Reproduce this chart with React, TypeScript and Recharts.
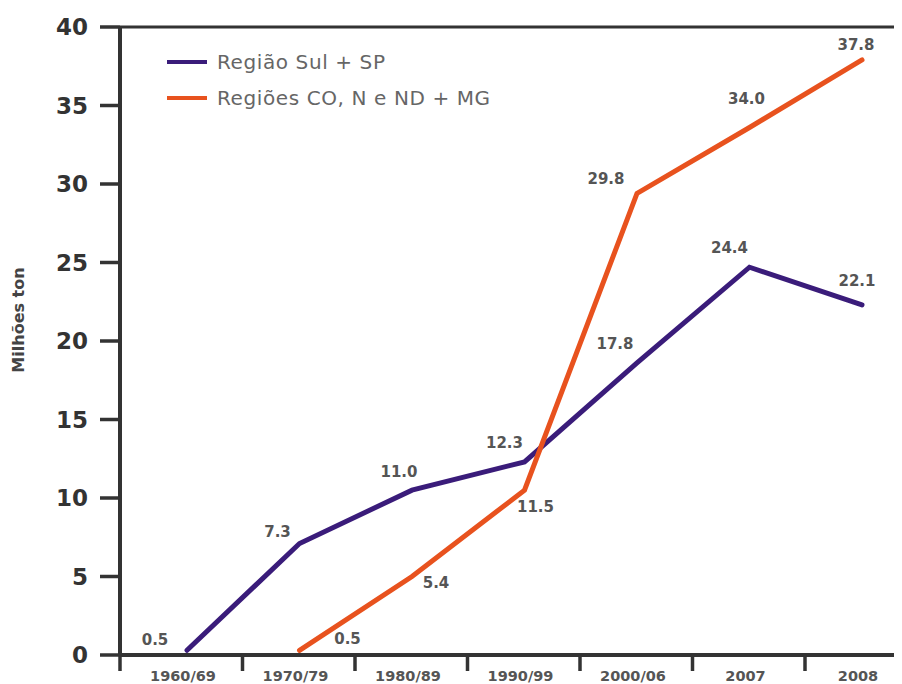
import { Line, LineChart, ReferenceLine, XAxis, YAxis } from "recharts";

const periods = ["1960/69", "1970/79", "1980/89", "1990/99", "2000/06", "2007", "2008"];
const sulSp = [0.3, 7.1, 10.5, 12.3, 18.6, 24.7, 22.3];
const coNne = [null, 0.3, 5.0, 10.5, 29.4, 33.6, 37.9];
const sulLabels = ["0.5", "7.3", "11.0", "12.3", "17.8", "24.4", "22.1"];
const coLabels = ["", "0.5", "5.4", "11.5", "29.8", "34.0", "37.8"];
const yTicks = [0, 5, 10, 15, 20, 25, 30, 35, 40];

const SUL_COLOR = "#3a1c7a";
const CO_COLOR = "#e8521e";
const FONT = "'DejaVu Sans', Arial, sans-serif";

// label nudges relative to each point, as in the source picture
const sulNudge = [[-32, -10], [-22, -12], [-13, -18], [-20, -19], [-22, -19], [-20, -19], [-5, -24]];
const coNudge = [[0, 0], [48, -11], [24, 6], [11, 17], [-31, -14], [-3, -28], [-6, -15]];

const data = periods.map((p, i) => ({ period: p, sul: sulSp[i], co: coNne[i] }));

function makeLabel(texts: string[], nudge: number[][]) {
  return (props: any) => {
    const { x, y, index } = props;
    const t = texts[index];
    if (!t || x == null || y == null) return null;
    const [dx, dy] = nudge[index];
    return (
      <text
        x={x + dx}
        y={y + dy}
        textAnchor="middle"
        dominantBaseline="central"
        fontFamily={FONT}
        fontWeight="bold"
        fontSize={15}
        fill="#555"
      >
        {t}
      </text>
    );
  };
}

function PeriodTick(props: any) {
  const { x, y, payload, index } = props;
  const markX = index === 0 ? x - 67 : x - 57;
  return (
    <g>
      <line x1={markX} x2={markX} y1={y} y2={y + 16} stroke="#333" strokeWidth={3.5} />
      <text x={x - 4} y={y + 26} textAnchor="middle" fontFamily={FONT} fontWeight="bold" fontSize={14.5} fill="#555">
        {payload.value}
      </text>
    </g>
  );
}

const legendRows = [
  { name: "Região Sul + SP", color: SUL_COLOR },
  { name: "Regiões CO, N e ND + MG", color: CO_COLOR },
];

export default function App() {
  return (
    <div style={{ position: "relative", width: 894, height: 676, overflow: "hidden", background: "#fff" }}>
      <LineChart width={894} height={676} data={data} margin={{ top: 19, right: 0, bottom: 0, left: 0 }}>
        <ReferenceLine y={40} stroke="#333" strokeWidth={3} ifOverflow="visible" />
        <XAxis
          dataKey="period"
          height={29}
          padding={{ left: 67, right: 40 }}
          axisLine={{ stroke: "#333", strokeWidth: 4 }}
          tickLine={false}
          tickSize={0}
          tickMargin={0}
          tick={<PeriodTick />}
          interval={0}
        />
        <YAxis
          width={112}
          domain={[0, 40]}
          ticks={yTicks}
          interval={0}
          axisLine={{ stroke: "#333", strokeWidth: 4 }}
          tickLine={{ stroke: "#333", strokeWidth: 3.5 }}
          tickSize={20}
          tickMargin={12}
          tick={{ fontFamily: FONT, fontWeight: "bold", fontSize: 23, fill: "#333" }}
          label={{
            content: (p: any) => {
              const vb = p.viewBox;
              const cx = vb.x + 10;
              const cy = vb.y + vb.height / 2 - 21;
              return (
                <text
                  x={cx}
                  y={cy}
                  transform={`rotate(-90 ${cx} ${cy})`}
                  textAnchor="middle"
                  dominantBaseline="central"
                  fontFamily={FONT}
                  fontWeight="bold"
                  fontSize={16}
                  fill="#444"
                >
                  Milhões ton
                </text>
              );
            },
          }}
        />
        <Line
          dataKey="sul"
          name="Região Sul + SP"
          stroke={SUL_COLOR}
          strokeWidth={5}
          strokeLinecap="round"
          dot={false}
          activeDot={false}
          isAnimationActive={false}
          label={makeLabel(sulLabels, sulNudge)}
        />
        <Line
          dataKey="co"
          name="Regiões CO, N e ND + MG"
          stroke={CO_COLOR}
          strokeWidth={5}
          strokeLinecap="round"
          dot={false}
          activeDot={false}
          isAnimationActive={false}
          label={makeLabel(coLabels, coNudge)}
        />
      </LineChart>
      <div style={{ position: "absolute", left: 159, top: 36 }}>
        {legendRows.map((r) => (
          <div key={r.name} style={{ display: "flex", alignItems: "center", height: 36 }}>
            <span style={{ display: "inline-block", width: 40, height: 4, background: r.color, marginRight: 10 }} />
            <span style={{ fontFamily: FONT, fontSize: 20, letterSpacing: 0.6, color: "#666" }}>{r.name}</span>
          </div>
        ))}
      </div>
    </div>
  );
}
